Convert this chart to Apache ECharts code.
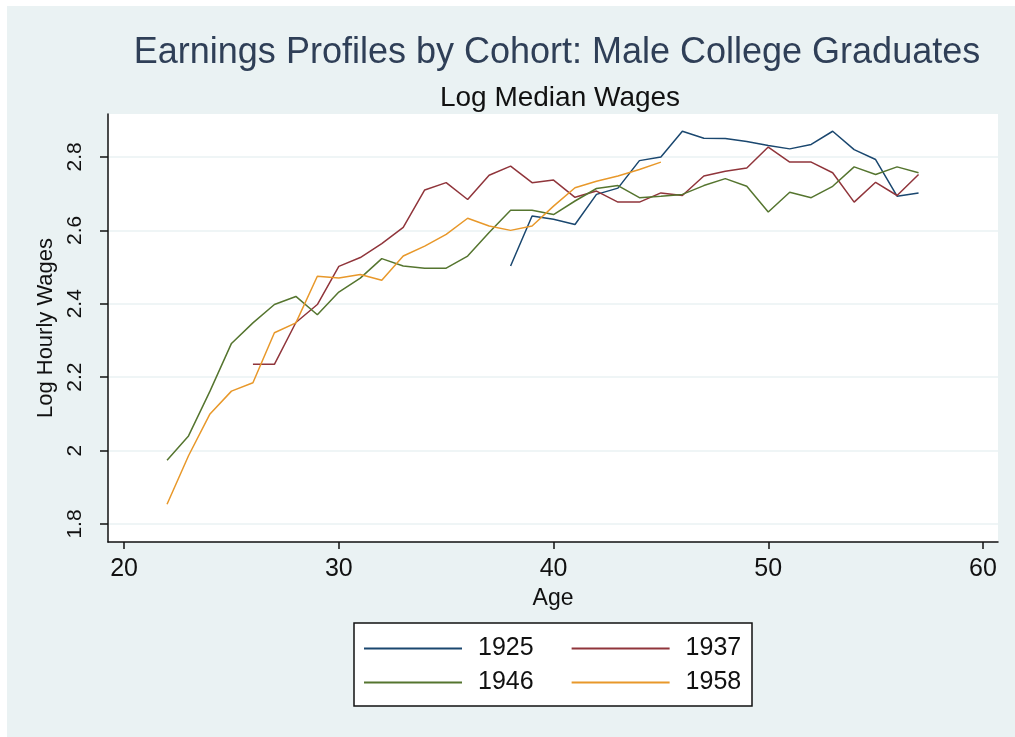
<!DOCTYPE html>
<html>
<head>
<meta charset="utf-8">
<script src="https://cdn.jsdelivr.net/npm/echarts@6/dist/echarts.min.js"></script>
<style>
  body { margin: 0; background: #fff; }
  #panel { position: absolute; left: 7px; top: 6px; right: 0; bottom: 0; background: #eaf2f3; }
  #chart { position: absolute; left: 0; top: 0; width: 1015px; height: 737px; }
</style>
</head>
<body>
<div id="panel"></div>
<div id="chart"></div>
<script>
// ages per cohort
var ages1925 = [38,39,40,41,42,43,44,45,46,47,48,49,50,51,52,53,54,55,56,57];
var ages1937 = [26,27,28,29,30,31,32,33,34,35,36,37,38,39,40,41,42,43,44,45,46,47,48,49,50,51,52,53,54,55,56,57];
var ages1946 = [22,23,24,25,26,27,28,29,30,31,32,33,34,35,36,37,38,39,40,41,42,43,44,45,46,47,48,49,50,51,52,53,54,55,56,57];
var ages1958 = [22,23,24,25,26,27,28,29,30,31,32,33,34,35,36,37,38,39,40,41,42,43,44,45];

// log median wages
var wage1925 = [2.503,2.639,2.63,2.616,2.698,2.715,2.79,2.80,2.87,2.851,2.85,2.842,2.831,2.822,2.834,2.87,2.82,2.793,2.693,2.702];
var wage1937 = [2.235,2.235,2.349,2.398,2.502,2.526,2.564,2.608,2.71,2.73,2.684,2.75,2.775,2.73,2.737,2.69,2.707,2.677,2.677,2.702,2.695,2.748,2.761,2.77,2.827,2.786,2.786,2.757,2.677,2.731,2.695,2.752];
var wage1946 = [1.974,2.04,2.162,2.292,2.348,2.398,2.42,2.37,2.432,2.47,2.523,2.503,2.497,2.497,2.53,2.594,2.655,2.655,2.643,2.68,2.714,2.722,2.689,2.693,2.698,2.722,2.741,2.72,2.65,2.704,2.689,2.72,2.773,2.752,2.773,2.757];
var wage1958 = [1.854,1.986,2.10,2.162,2.185,2.321,2.348,2.475,2.47,2.48,2.464,2.53,2.557,2.589,2.633,2.612,2.60,2.612,2.666,2.716,2.734,2.748,2.766,2.786];

var cohorts = ['1925', '1937', '1946', '1958'];
var colors = ['#1a476f', '#90353b', '#55752f', '#e8982a'];
var xTicks = [20, 30, 40, 50, 60];
var yTicks = [1.8, 2, 2.2, 2.4, 2.6, 2.8];

function pairs(xs, ys) {
    var out = [];
    for (var i = 0; i < xs.length; i++) {
        out.push([xs[i], ys[i]]);
    }
    return out;
}

var allData = [pairs(ages1925, wage1925), pairs(ages1937, wage1937), pairs(ages1946, wage1946), pairs(ages1958, wage1958)];

var font = '"Liberation Sans", Arial, sans-serif';
var chart = echarts.init(document.getElementById('chart'));

// two legend rows, same look
function legendRow(names, top) {
    return {
        data: names,
        left: 364, top: top,
        itemWidth: 98, itemHeight: 2, itemGap: 38,
        icon: 'rect',
        padding: 0,
        textStyle: { fontFamily: font, fontSize: 25, color: '#111', padding: [0, 0, 0, 11] },
        z: 10
    };
}

var option = {
    backgroundColor: 'transparent',
    animation: false,
    title: [{
        text: 'Earnings Profiles by Cohort: Male College Graduates',
        left: 552,
        top: 30,
        textAlign: 'center',
        textStyle: { fontFamily: font, fontSize: 36, fontWeight: 'normal', color: '#2f3f57' }
    }, {
        text: 'Log Median Wages',
        left: 555,
        top: 79,
        textAlign: 'center',
        textStyle: { fontFamily: font, fontSize: 28, fontWeight: 'normal', color: '#111' }
    }],
    grid: {
        left: 108, top: 114, right: 17, bottom: 195,
        show: true, backgroundColor: '#fff', borderWidth: 0
    },
    xAxis: {
        type: 'value',
        min: 19.25,
        max: 60.7,
        name: 'Age',
        nameLocation: 'middle',
        nameGap: 37,
        nameTextStyle: { fontFamily: font, fontSize: 23, color: '#111' },
        axisLine: { lineStyle: { color: '#111', width: 1.5 } },
        axisTick: { length: 7, customValues: xTicks, lineStyle: { color: '#111', width: 1.5 } },
        axisLabel: { customValues: xTicks, margin: 15, fontFamily: font, fontSize: 25, color: '#111' },
        splitLine: { show: false }
    },
    yAxis: {
        type: 'value',
        min: 1.751,
        max: 2.917,
        name: 'Log Hourly Wages',
        nameLocation: 'middle',
        nameGap: 47,
        nameTextStyle: { fontFamily: font, fontSize: 22, color: '#111' },
        axisLine: { show: true, lineStyle: { color: '#111', width: 1.5 } },
        axisTick: { show: true, length: 8, customValues: yTicks, lineStyle: { color: '#111', width: 1.5 } },
        axisLabel: { customValues: yTicks, rotate: 90, margin: 22, fontFamily: font, fontSize: 21, color: '#111' },
        splitLine: { show: true, lineStyle: { color: '#eaf2f3', width: 1.5 } }
    },
    legend: [legendRow(cohorts.slice(0, 2), 636), legendRow(cohorts.slice(2, 4), 670)],
    graphic: [{
        type: 'rect',
        z: 1,
        shape: { x: 354, y: 623, width: 398, height: 83 },
        style: { fill: '#fff', stroke: '#111', lineWidth: 1.5 }
    }],
    series: cohorts.map(function(name, i) {
        return {
            name: name,
            type: 'line',
            data: allData[i],
            showSymbol: false,
            symbol: 'none',
            color: colors[i],
            lineStyle: { width: 1.5, color: colors[i] }
        };
    })
};

chart.setOption(option);
</script>
</body>
</html>
